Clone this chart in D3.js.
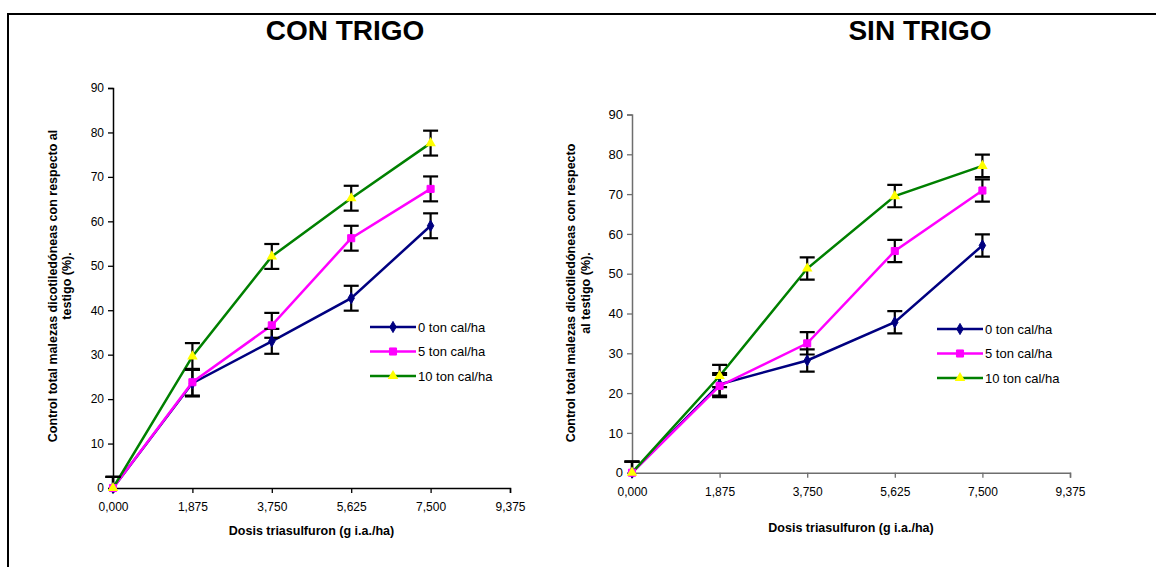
<!DOCTYPE html>
<html>
<head>
<meta charset="utf-8">
<script src="https://cdn.jsdelivr.net/npm/d3@7"></script>
<style>
  body { margin: 0; background: #fff; }
  svg { font-family: "Liberation Sans", Arial, sans-serif; }
</style>
</head>
<body>
<div id="chart"></div>
<script>
// data
var doses = [0, 1.875, 3.75, 5.625, 7.5];
var xTicks = [0, 1.875, 3.75, 5.625, 7.5, 9.375];
var yTicks = [0, 10, 20, 30, 40, 50, 60, 70, 80, 90];
var seriesNames = ["0 ton cal/ha", "5 ton cal/ha", "10 ton cal/ha"];

// CON TRIGO
var con0 = [0, 23.6, 33.0, 42.7, 59.0];
var con5 = [0, 23.8, 36.6, 56.2, 67.3];
var con10 = [0, 29.6, 52.1, 65.2, 77.6];
var conErr0 = [2.5, 3.0, 2.8, 2.8, 2.8];
var conErr5 = [2.5, 3.0, 2.8, 2.8, 2.8];
var conErr10 = [2.5, 3.0, 2.8, 2.8, 2.8];

// SIN TRIGO
var sin0 = [0, 22.2, 28.2, 37.8, 57.1];
var sin5 = [0, 21.8, 32.5, 55.7, 70.9];
var sin10 = [0, 24.3, 51.3, 69.5, 77.1];
var sinErr0 = [2.8, 2.8, 2.8, 2.8, 2.8];
var sinErr5 = [2.8, 2.8, 2.8, 2.8, 2.8];
var sinErr10 = [2.8, 2.8, 2.8, 2.8, 2.8];

var lineColors = ["#000080", "#ff00ff", "#008000"];
var markerFill = ["#000080", "#ff00ff", "#ffff00"];
var markerTypes = [d3.symbolDiamond, d3.symbolSquare, d3.symbolTriangle];
var markerSizes = [36, 50, 48];

var W = 1156, H = 567;

var svg = d3.select("#chart")
  .append("svg")
  .attr("width", W)
  .attr("height", H);

// outer frame (top and left edges)
svg.append("path")
  .attr("d", "M8,567 V14 H1156")
  .attr("fill", "none")
  .attr("stroke", "#000")
  .attr("stroke-width", 2);

var fmt = function(d) { return d3.format(".3f")(d).replace(".", ","); };

function drawChart(o) {
  var x = d3.scaleLinear().domain([0, 9.375]).range([o.left, o.right]);
  var y = d3.scaleLinear().domain([0, 90]).range([o.bottom, o.top]);
  var g = svg.append("g");

  var clipId = "clip" + o.id;
  svg.append("clipPath").attr("id", clipId)
    .append("rect")
    .attr("x", o.left - 20).attr("y", o.top - 10)
    .attr("width", o.right - o.left + 40)
    .attr("height", o.bottom - o.top + 10);

  // axes
  var yAxis = g.append("g")
    .attr("transform", "translate(" + o.left + ",0)")
    .call(d3.axisLeft(y).tickValues(yTicks).tickSize(5).tickPadding(4));
  var xAxis = g.append("g")
    .attr("transform", "translate(0," + o.bottom + ")")
    .call(d3.axisBottom(x).tickValues(xTicks).tickFormat(fmt).tickSize(5).tickPadding(o.xPad));
  [xAxis, yAxis].forEach(function(a) {
    a.select(".domain").attr("stroke", o.axisColor).attr("stroke-width", 1.5);
    a.selectAll(".tick line").attr("stroke", o.axisColor).attr("stroke-width", 1.3);
    a.selectAll("text")
      .attr("fill", "#000")
      .style("font-size", "12px")
      .style("font-family", "Liberation Sans, Arial, sans-serif");
  });
  yAxis.selectAll("text").style("font-size", o.yTickSize);

  var plot = g.append("g").attr("clip-path", "url(#" + clipId + ")");

  var line = d3.line()
    .x(function(d) { return x(d.x); })
    .y(function(d) { return y(d.y); });

  o.series.forEach(function(vals, i) {
    var pts = doses.map(function(d, j) { return {x: d, y: vals[j], e: o.errors[i][j]}; });
    plot.append("path")
      .datum(pts)
      .attr("fill", "none")
      .attr("stroke", lineColors[i])
      .attr("stroke-width", 2.5)
      .attr("d", line);
  });

  // error bars
  o.series.forEach(function(vals, i) {
    var pts = doses.map(function(d, j) { return {x: d, y: vals[j], e: o.errors[i][j]}; });
    var eb = plot.append("g").attr("stroke", "#000").attr("stroke-width", 2.2);
    eb.selectAll(".v").data(pts).enter().append("line")
      .attr("x1", function(d) { return x(d.x); })
      .attr("x2", function(d) { return x(d.x); })
      .attr("y1", function(d) { return y(d.y - d.e); })
      .attr("y2", function(d) { return y(d.y + d.e); });
    eb.selectAll(".t").data(pts).enter().append("line")
      .attr("x1", function(d) { return x(d.x) - 7.5; })
      .attr("x2", function(d) { return x(d.x) + 7.5; })
      .attr("y1", function(d) { return y(d.y + d.e); })
      .attr("y2", function(d) { return y(d.y + d.e); });
    eb.selectAll(".b").data(pts).enter().append("line")
      .attr("x1", function(d) { return x(d.x) - 7.5; })
      .attr("x2", function(d) { return x(d.x) + 7.5; })
      .attr("y1", function(d) { return y(d.y - d.e); })
      .attr("y2", function(d) { return y(d.y - d.e); });
  });

  // markers
  o.series.forEach(function(vals, i) {
    g.selectAll(".m" + i).data(vals).enter().append("path")
      .attr("transform", function(d, j) { return "translate(" + x(doses[j]) + "," + y(d) + ")"; })
      .attr("d", d3.symbol().type(markerTypes[i]).size(markerSizes[i]))
      .attr("fill", markerFill[i])
      .attr("stroke", i == 2 ? "none" : lineColors[i]);
  });

  // title
  svg.append("text")
    .attr("x", o.titleX).attr("y", 40)
    .attr("text-anchor", "middle")
    .style("font-size", "28px")
    .style("font-weight", "bold")
    .text(o.title);

  // x axis title
  svg.append("text")
    .attr("x", (o.left + o.right) / 2).attr("y", o.xTitleY)
    .attr("text-anchor", "middle")
    .style("font-size", "12.5px")
    .style("font-weight", "bold")
    .text("Dosis triasulfuron (g i.a./ha)");

  // y axis title, two lines
  o.yTitle.forEach(function(t, k) {
    svg.append("text")
      .attr("transform", "translate(" + (o.yTitleX + k * o.yTitleGap) + "," + o.yTitleY + ") rotate(-90)")
      .attr("text-anchor", "middle")
      .style("font-size", "12.5px")
      .style("font-weight", "bold")
      .text(t);
  });

  // legend
  var lg = svg.append("g").attr("transform", "translate(" + o.legX + "," + o.legY + ")");
  seriesNames.forEach(function(name, i) {
    var row = lg.append("g").attr("transform", "translate(0," + (i * 24.5) + ")");
    row.append("line")
      .attr("x1", 0).attr("x2", 46)
      .attr("stroke", lineColors[i]).attr("stroke-width", 2.5);
    row.append("path")
      .attr("transform", "translate(23,0)")
      .attr("d", d3.symbol().type(markerTypes[i]).size(markerSizes[i]))
      .attr("fill", markerFill[i])
      .attr("stroke", i == 2 ? "none" : lineColors[i]);
    row.append("text")
      .attr("x", 48).attr("y", 4.5)
      .style("font-size", "13px")
      .text(name);
  });
}

drawChart({
  id: "con", title: "CON TRIGO", titleX: 345,
  left: 113, right: 510, top: 88, bottom: 488,
  axisColor: "#000", xPad: 9, xTitleY: 535, yTickSize: "12px",
  yTitle: ["Control total malezas dicotiledóneas con respecto al", "testigo (%)."],
  yTitleX: 57, yTitleGap: 14, yTitleY: 286,
  legX: 370, legY: 327,
  series: [con0, con5, con10],
  errors: [conErr0, conErr5, conErr10]
});

drawChart({
  id: "sin", title: "SIN TRIGO", titleX: 920,
  left: 632, right: 1070, top: 114.5, bottom: 472.7,
  axisColor: "#6e6e6e", xPad: 10, xTitleY: 532, yTickSize: "13px",
  yTitle: ["Control total malezas dicotiledóneas con respecto", "al testigo (%)."],
  yTitleX: 575, yTitleGap: 15, yTitleY: 293,
  legX: 937, legY: 329,
  series: [sin0, sin5, sin10],
  errors: [sinErr0, sinErr5, sinErr10]
});
</script>
</body>
</html>
